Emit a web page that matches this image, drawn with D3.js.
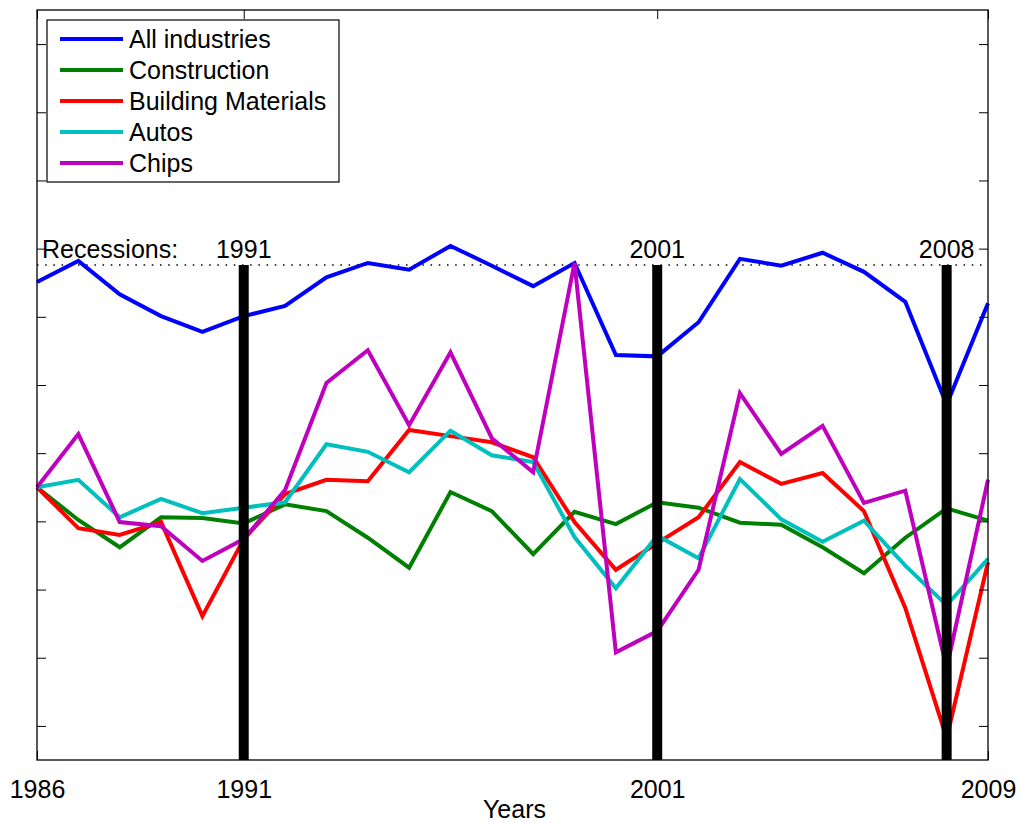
<!DOCTYPE html>
<html>
<head>
<meta charset="utf-8">
<script src="https://cdn.jsdelivr.net/npm/d3@7"></script>
<style>
  html, body { margin: 0; padding: 0; background: #fff; }
  svg { display: block; }
  text { font-family: "Liberation Sans", Arial, Helvetica, sans-serif; fill: #000; }
</style>
</head>
<body>
<svg id="chart" width="1020" height="823"></svg>
<script>
const years = d3.range(1986, 2010);
const allIndustries = [0.151,0.182,0.133,0.101,0.078,0.101,0.116,0.158,0.179,0.169,0.204,0.175,0.145,0.179,0.044,0.042,0.092,0.185,0.175,0.194,0.166,0.122,-0.029,0.120];
const construction = [-0.150,-0.198,-0.238,-0.194,-0.195,-0.203,-0.175,-0.185,-0.224,-0.268,-0.157,-0.185,-0.248,-0.186,-0.204,-0.172,-0.180,-0.202,-0.205,-0.238,-0.276,-0.224,-0.181,-0.199];
const buildingMaterials = [-0.150,-0.210,-0.220,-0.201,-0.339,-0.226,-0.160,-0.139,-0.141,-0.066,-0.075,-0.084,-0.106,-0.201,-0.271,-0.232,-0.194,-0.113,-0.145,-0.129,-0.185,-0.327,-0.518,-0.260];
const autos = [-0.150,-0.139,-0.194,-0.167,-0.188,-0.180,-0.172,-0.087,-0.098,-0.128,-0.067,-0.103,-0.113,-0.223,-0.298,-0.221,-0.254,-0.138,-0.197,-0.230,-0.199,-0.265,-0.323,-0.255];
const chips = [-0.150,-0.072,-0.201,-0.207,-0.258,-0.226,-0.154,0.003,0.051,-0.059,0.048,-0.078,-0.128,0.179,-0.392,-0.361,-0.271,-0.012,-0.101,-0.060,-0.173,-0.155,-0.415,-0.139];

const seriesNames = ["All industries", "Construction", "Building Materials", "Autos", "Chips"];
const seriesColors = ["#0000ff", "#008000", "#ff0000", "#00bfbf", "#bf00bf"];
const seriesValues = [allIndustries, construction, buildingMaterials, autos, chips];

const xTickYears = [1986, 1991, 2001, 2009];
const yTickValues = [-0.5,-0.4,-0.3,-0.2,-0.1,0,0.1,0.2,0.3,0.4,0.5];
const recessionYears = [1991, 2001, 2008];
const recessionLevel = 0.176;
const xDomain = [1986, 2009];
const yDomain = [-0.55, 0.55];

const svg = d3.select("#chart");
const L = 37, R = 988, T = 10, B = 760;
const x = d3.scaleLinear().domain(xDomain).range([L, R]);
const y = d3.scaleLinear().domain(yDomain).range([B, T]);
const FS = 25;

// dotted recession reference line
svg.append("line")
  .attr("x1", L).attr("x2", R)
  .attr("y1", y(recessionLevel)).attr("y2", y(recessionLevel))
  .attr("stroke", "#000").attr("stroke-width", 1.6)
  .attr("stroke-dasharray", "1.5,6.7");

// series lines
const line = d3.line().x((d, i) => x(years[i])).y(d => y(d));
seriesValues.forEach((vals, k) => {
  svg.append("path")
    .datum(vals)
    .attr("d", line)
    .attr("fill", "none")
    .attr("stroke", seriesColors[k])
    .attr("stroke-width", 4)
    .attr("stroke-linejoin", "miter");
});

// recession bars
recessionYears.forEach(yr => {
  svg.append("line")
    .attr("x1", x(yr)).attr("x2", x(yr))
    .attr("y1", y(recessionLevel)).attr("y2", B)
    .attr("stroke", "#000").attr("stroke-width", 10);
  svg.append("text")
    .attr("x", x(yr)).attr("y", y(recessionLevel) - 7)
    .attr("text-anchor", "middle")
    .attr("font-size", FS)
    .text(yr);
});
svg.append("text")
  .attr("x", 42).attr("y", y(recessionLevel) - 7)
  .attr("font-size", FS)
  .text("Recessions:");

// axes frame and ticks
const axisG = svg.append("g");
const xBottom = d3.axisBottom(x).tickValues(xTickYears).tickSize(-9).tickPadding(20).tickFormat(d3.format("d"));
const gxb = axisG.append("g").attr("transform", `translate(0,${B})`).call(xBottom);
gxb.select(".domain").remove();
gxb.selectAll("text").attr("font-size", FS).attr("font-family", "Liberation Sans, Arial, sans-serif").attr("fill", "#000");
gxb.selectAll("line").attr("stroke", "#000");

const xTop = d3.axisTop(x).tickValues(xTickYears).tickSize(-9).tickFormat("");
const gxt = axisG.append("g").attr("transform", `translate(0,${T})`).call(xTop);
gxt.select(".domain").remove();
gxt.selectAll("line").attr("stroke", "#000");

const yLeft = d3.axisLeft(y).tickValues(yTickValues).tickSize(-9).tickFormat("");
const gyl = axisG.append("g").attr("transform", `translate(${L},0)`).call(yLeft);
gyl.select(".domain").remove();
gyl.selectAll("line").attr("stroke", "#000");

const yRight = d3.axisRight(y).tickValues(yTickValues).tickSize(-9).tickFormat("");
const gyr = axisG.append("g").attr("transform", `translate(${R},0)`).call(yRight);
gyr.select(".domain").remove();
gyr.selectAll("line").attr("stroke", "#000");

svg.append("rect")
  .attr("x", L).attr("y", T).attr("width", R - L).attr("height", B - T)
  .attr("fill", "none").attr("stroke", "#000").attr("stroke-width", 1.3);

// x axis title
svg.append("text")
  .attr("x", (L + R) / 2 + 2).attr("y", 818)
  .attr("text-anchor", "middle")
  .attr("font-size", FS)
  .text("Years");

// legend
const lg = svg.append("g");
lg.append("rect")
  .attr("x", 47).attr("y", 20).attr("width", 292).attr("height", 162)
  .attr("fill", "#fff").attr("stroke", "#000").attr("stroke-width", 1.2);
seriesNames.forEach((name, k) => {
  const cy = 39 + k * 31;
  lg.append("line")
    .attr("x1", 60).attr("x2", 123).attr("y1", cy).attr("y2", cy)
    .attr("stroke", seriesColors[k]).attr("stroke-width", 4);
  lg.append("text")
    .attr("x", 129).attr("y", cy + 9)
    .attr("font-size", FS)
    .text(name);
});
</script>
</body>
</html>
